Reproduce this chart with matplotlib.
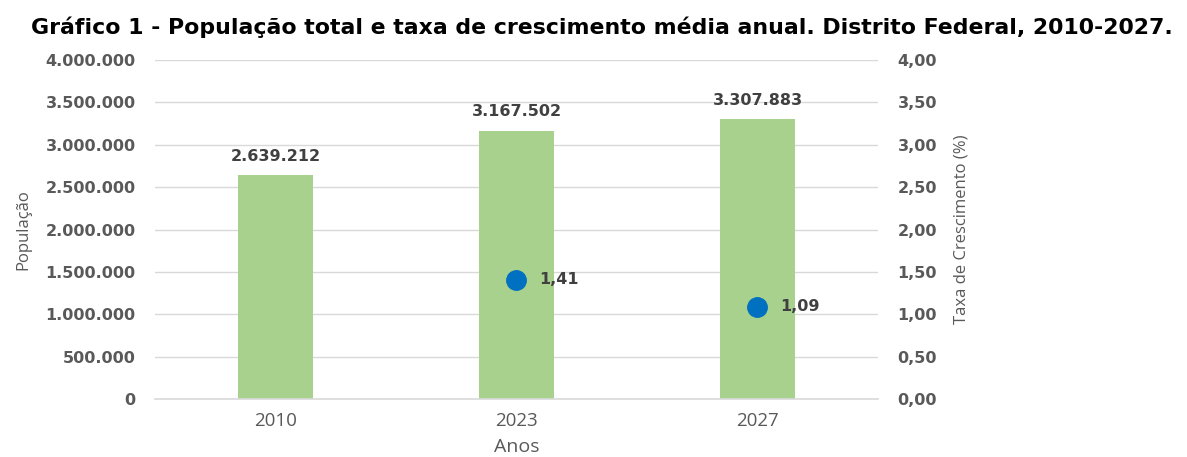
import matplotlib
matplotlib.use("Agg")
import matplotlib.pyplot as plt
from matplotlib.ticker import FuncFormatter, MultipleLocator

anos = ["2010", "2023", "2027"]
populacao = [2639212, 3167502, 3307883]
taxa_anos = ["2023", "2027"]
taxa = [1.41, 1.09]

title = "Gráfico 1 - População total e taxa de crescimento média anual. Distrito Federal, 2010-2027."

def fmt_pop(v):
    return f"{int(round(v)):,}".replace(",", ".")

def fmt_taxa(v):
    return f"{v:.2f}".replace(".", ",")

narrow = ["Open Sans", "DejaVu Sans"]
GRAY = "#595959"
DARK = "#404040"

fig = plt.figure(figsize=(11.87, 4.57), dpi=100)
ax = fig.add_axes([155/1187, 58/457, 723/1187, 339/457])
ax2 = ax.twinx()

x = list(range(len(anos)))
ax.bar(x, populacao, width=0.31, color="#A9D18E", zorder=2)
ax.set_xlim(-0.5, len(anos) - 0.5)
ax.set_ylim(0, 4000000)
ax.yaxis.set_major_locator(MultipleLocator(500000))
ax.yaxis.set_major_formatter(FuncFormatter(lambda v, p: fmt_pop(v)))
ax.grid(axis="y", color="#D9D9D9", linewidth=1.0, zorder=0)
ax.set_axisbelow(True)
ax.set_xticks(x)
ax.set_xticklabels(anos, fontsize=13.5, color=GRAY, family=narrow)
for lab in ax.get_yticklabels():
    lab.set_fontweight("bold")
    lab.set_fontsize(11.5)
    lab.set_color(GRAY)
ax.tick_params(axis="y", length=0, pad=14)
ax.tick_params(axis="x", length=0, pad=9)
for s in ["top", "left", "right"]:
    ax.spines[s].set_visible(False)
ax.spines["bottom"].set_color("#D9D9D9")
ax.spines["bottom"].set_linewidth(1.2)

for xi, v in zip(x, populacao):
    ax.annotate(fmt_pop(v), (xi, v), xytext=(0, 8), textcoords="offset points",
                ha="center", va="bottom", fontsize=11.5, fontweight="bold", color=DARK)

ax.set_ylabel("População", fontsize=12, color=GRAY, family=narrow, labelpad=10)
ax.set_xlabel("Anos", fontsize=14, color=GRAY, family=narrow, labelpad=6)

tx = [anos.index(a) for a in taxa_anos]
ax2.plot(tx, taxa, linestyle="none", marker="o", markersize=14, color="#0070C0", zorder=3)
ax2.set_ylim(0, 4)
ax2.yaxis.set_major_locator(MultipleLocator(0.5))
ax2.yaxis.set_major_formatter(FuncFormatter(lambda v, p: fmt_taxa(v)))
for lab in ax2.get_yticklabels():
    lab.set_fontweight("bold")
    lab.set_fontsize(11.5)
    lab.set_color(GRAY)
ax2.tick_params(axis="y", length=0, pad=14)
for s in ["top", "left", "right", "bottom"]:
    ax2.spines[s].set_visible(False)
for xi, v in zip(tx, taxa):
    ax2.annotate(fmt_taxa(v), (xi, v), xytext=(16, 0), textcoords="offset points",
                 ha="left", va="center", fontsize=11.5, fontweight="bold", color=DARK)
ax2.set_ylabel("Taxa de Crescimento (%)", fontsize=12, color=GRAY, family=narrow, labelpad=12)

fig.text(602/1187, 1 - 27/457, title, ha="center", va="center",
         fontsize=15.8, fontweight="bold", color="black")

fig.savefig("out.png", dpi=100)
